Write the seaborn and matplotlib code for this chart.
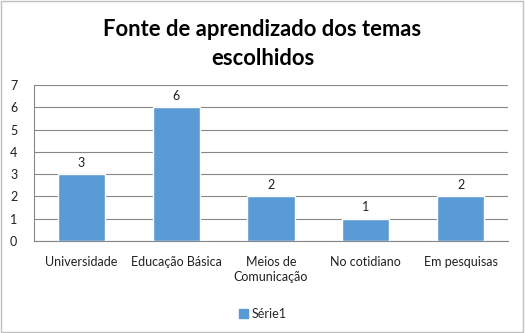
import matplotlib
matplotlib.use("Agg")
import matplotlib.pyplot as plt
import seaborn as sns
import pandas as pd
from matplotlib.patches import Rectangle

categories = ["Universidade", "Educação Básica", "Meios de\nComunicação", "No cotidiano", "Em pesquisas"]
values = [3, 6, 2, 1, 2]
series_name = "Série1"
title = "Fonte de aprendizado dos temas\nescolhidos"

sns.set_theme(style="white")
plt.rcParams["font.family"] = ["Lato", "DejaVu Sans"]

bar_color = "#5B9BD5"
grid_color = "#878787"
text_color = "#202020"
fs = 9.0

df = pd.DataFrame({"cat": categories, "val": values})

fig = plt.figure(figsize=(5.25, 3.33), dpi=100)
ax = fig.add_axes([0.0648, 0.2763, 0.9028, 0.4684])

sns.barplot(data=df, x="cat", y="val", color=bar_color, width=0.5,
            saturation=1, ax=ax, zorder=3)

ax.set_ylim(0, 7)
ax.set_xlim(-0.5, len(categories) - 0.5)
ax.set_yticks(range(0, 8))
ax.yaxis.grid(True, color=grid_color, linewidth=0.8, zorder=0)
ax.set_axisbelow(True)
ax.set_xlabel("")
ax.set_ylabel("")

for s in ["top", "right"]:
    ax.spines[s].set_visible(False)
for s in ["left", "bottom"]:
    ax.spines[s].set_color(grid_color)
    ax.spines[s].set_linewidth(0.8)

# value labels above each bar
for i, v in enumerate(values):
    ax.text(i, v + 0.25, str(v), ha="center", va="bottom", fontsize=fs, color=text_color)

# category tick marks between bars
ax.set_xticks([i for i in range(len(categories))])
ax.set_xticklabels(categories, fontsize=fs, color=text_color, linespacing=1.25)
ax.tick_params(axis="x", length=0, pad=11)
ax.set_xticks([i - 0.5 for i in range(len(categories) + 1)], minor=True)
ax.tick_params(axis="x", which="minor", length=4, color=grid_color, width=0.8, direction="out")
ax.tick_params(axis="y", length=4, color=grid_color, width=0.8, labelsize=fs,
               labelcolor=text_color, pad=8)

fig.text(0.5, 0.868, title, ha="center", va="center", fontsize=15.8, fontweight="bold",
         color="black", linespacing=1.45)

# legend
handle = Rectangle((0, 0), 1, 1, color=bar_color)
fig.legend([handle], [series_name], loc="center", bbox_to_anchor=(0.5, 0.058),
           frameon=False, fontsize=fs, handlelength=0.7, handleheight=0.7,
           handletextpad=0.3)

# outer chart border
fig.patches.append(Rectangle((0.002, 0.003), 0.995, 0.994, transform=fig.transFigure,
                             fill=False, edgecolor="#BFBFBF", linewidth=1))

fig.savefig("out.png", dpi=100)
